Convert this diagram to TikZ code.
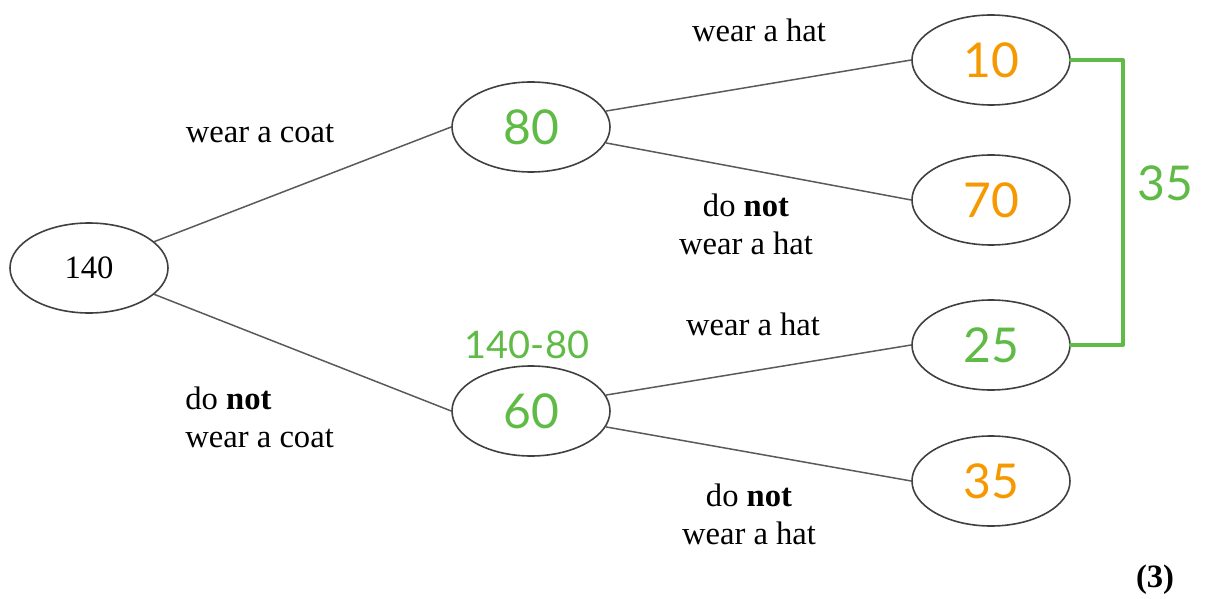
\documentclass[tikz,border=0pt]{standalone}
\usepackage{fontspec}
\setmainfont{Liberation Serif}
\newfontfamily\handfont{Lato}
\usetikzlibrary{shapes.geometric}
\definecolor{hgreen}{RGB}{96,187,70}
\definecolor{horange}{RGB}{246,153,0}
\definecolor{edgegray}{RGB}{90,90,90}
\begin{document}
\begin{tikzpicture}[x=0.5pt,y=-0.5pt,
  oval/.style={ellipse,draw=black!75,line width=0.8pt,minimum width=79pt,minimum height=45pt,inner sep=0pt},
  branch/.style={draw=edgegray,line width=0.75pt},
  lbl/.style={font=\fontsize{16.3}{19}\selectfont,inner sep=0pt,align=center},
  lblleft/.style={font=\fontsize{16.3}{19}\selectfont,inner sep=0pt,align=left},
  gnum/.style={text=hgreen,font=\handfont\fontsize{24}{28}\selectfont},
  onum/.style={text=horange,font=\handfont\fontsize{24}{28}\selectfont}]
\useasboundingbox (0,0) rectangle (1206,599);
% nodes
\node[oval,lbl] (root) at (89,268) {140};
\node[oval,gnum] (n80) at (531,127) {80};
\node[oval,gnum] (n60) at (531,411) {60};
\node[oval,onum] (n10) at (991,60) {10};
\node[oval,onum] (n70) at (991,200) {70};
\node[oval,gnum] (n25) at (991,345) {25};
\node[oval,onum] (n35) at (991,481) {35};
% branches
\path[branch] (root.22) -- (n80.west);
\path[branch] (root.-22) -- (n60.west);
\path[branch] (n80.12) -- (n10.west);
\path[branch] (n80.-12) -- (n70.west);
\path[branch] (n60.12) -- (n25.west);
\path[branch] (n60.-12) -- (n35.west);
% labels
\node[lbl] (l1) at (260,133) {wear a coat};
\node[lblleft,anchor=west] (l2) at (185,417) {do \textbf{not}\\wear a coat};
\node[lbl] (l3) at (759,30) {wear a hat};
\node[lbl] (l4) at (746,224) {do \textbf{not}\\wear a hat};
\node[lbl] (l5) at (753,324) {wear a hat};
\node[lbl] (l6) at (749,514) {do \textbf{not}\\wear a hat};
\node[lbl] (mk) at (1155,580) {\textbf{(3)}};
% handwritten annotations
\node[text=hgreen,font=\handfont\fontsize{19}{22}\selectfont] (calc) at (527,345) {140-80};
\coordinate (br) at (1123,200);
\draw[hgreen,line width=2pt,line join=round,line cap=round] (n10.east) -| (br) |- (n25.east);
\node[gnum] (sum) at (1165,183) {35};
\end{tikzpicture}
\end{document}
